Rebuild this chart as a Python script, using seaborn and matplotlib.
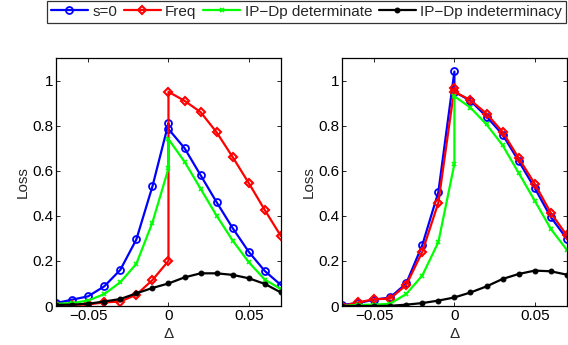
import matplotlib
matplotlib.use("Agg")
import matplotlib.pyplot as plt
import seaborn as sns
import numpy as np

# x grid: the step at 0 is drawn with two points (left / right limit)
delta = [-0.07, -0.06, -0.05, -0.04, -0.03, -0.02, -0.01, 0.0, 0.0,
         0.01, 0.02, 0.03, 0.04, 0.05, 0.06, 0.07]
delta_black = [-0.07, -0.06, -0.05, -0.04, -0.03, -0.02, -0.01, 0.0,
               0.01, 0.02, 0.03, 0.04, 0.05, 0.06, 0.07]

# left panel
left_s0 = [0.013, 0.028, 0.043, 0.087, 0.16, 0.295, 0.53, 0.81, 0.785,
           0.70, 0.58, 0.46, 0.345, 0.24, 0.155, 0.093]
left_freq = [0.005, 0.005, 0.007, 0.016, 0.02, 0.05, 0.115, 0.20, 0.95,
             0.91, 0.86, 0.77, 0.66, 0.545, 0.425, 0.31]
left_det = [0.01, 0.013, 0.024, 0.053, 0.105, 0.187, 0.37, 0.61, 0.74,
            0.64, 0.52, 0.40, 0.29, 0.194, 0.117, 0.075]
left_ind = [0.005, 0.006, 0.01, 0.02, 0.031, 0.056, 0.08, 0.10,
            0.127, 0.145, 0.145, 0.138, 0.123, 0.098, 0.06]

# right panel
right_s0 = [0.005, 0.013, 0.028, 0.038, 0.10, 0.27, 0.505, 1.04, 0.95,
            0.91, 0.84, 0.76, 0.643, 0.523, 0.394, 0.298]
right_freq = [0.0, 0.016, 0.03, 0.033, 0.093, 0.24, 0.458, 0.967, 0.95,
              0.913, 0.853, 0.772, 0.656, 0.542, 0.413, 0.313]
right_det = [0.0, 0.005, 0.006, 0.01, 0.053, 0.135, 0.283, 0.63, 0.93,
             0.88, 0.805, 0.713, 0.59, 0.467, 0.342, 0.249]
right_ind = [0.0, 0.0, 0.0, 0.001, 0.006, 0.013, 0.024, 0.038,
             0.06, 0.087, 0.12, 0.142, 0.157, 0.154, 0.139]

labels = ['s=0', 'Freq', 'IP\u2212Dp determinate', 'IP\u2212Dp indeterminacy']

sns.set_style("white")
plt.rcParams['font.family'] = ['Liberation Sans', 'DejaVu Sans']
plt.rcParams['axes.unicode_minus'] = True

fig = plt.figure(figsize=(5.68, 3.45), dpi=100)
ax1 = fig.add_axes([0.0986, 0.113, 0.396, 0.719])
ax2 = fig.add_axes([0.602, 0.113, 0.396, 0.719])


def draw(ax, s0, freq, det, ind):
    kw = dict(estimator=None, sort=False, ax=ax, linewidth=1.6)
    sns.lineplot(x=delta, y=s0, color='#0000ff', marker='o', markersize=5,
                 markerfacecolor='none', markeredgecolor='#0000ff',
                 markeredgewidth=1.3, label=labels[0], **kw)
    sns.lineplot(x=delta, y=freq, color='#ff0000', marker='D', markersize=4.2,
                 markerfacecolor='none', markeredgecolor='#ff0000',
                 markeredgewidth=1.5, label=labels[1], **kw)
    sns.lineplot(x=delta, y=det, color='#00ff00', marker='x', markersize=3.5,
                 markeredgecolor='#00ff00', markeredgewidth=1.2,
                 label=labels[2], **kw)
    sns.lineplot(x=delta_black, y=ind, color='black', marker='o', markersize=3.5,
                 markeredgecolor='black', markerfacecolor='black',
                 label=labels[3], **kw)
    ax.set_xlim(-0.07, 0.07)
    ax.set_ylim(0, 1.1)
    ax.set_xticks([-0.05, 0, 0.05])
    ax.set_xticklabels(['\u22120.05', '0', '0.05'])
    ax.set_yticks([0, 0.2, 0.4, 0.6, 0.8, 1])
    ax.set_yticklabels(['0', '0.2', '0.4', '0.6', '0.8', '1'])
    ax.tick_params(direction='in', length=3, width=0.6, labelsize=11,
                   top=True, right=True, bottom=True, left=True, pad=2,
                   colors='black')
    ax.set_xlabel('\u0394', fontsize=11, labelpad=3)
    ax.set_ylabel('Loss', fontsize=11, labelpad=2)
    for sp in ax.spines.values():
        sp.set_color('black')
        sp.set_linewidth(0.9)
    ax.get_legend().remove()


draw(ax1, left_s0, left_freq, left_det, left_ind)
draw(ax2, right_s0, right_freq, right_det, right_ind)

handles, _ = ax1.get_legend_handles_labels()
leg = fig.legend(handles, labels, loc='upper right', ncol=4,
                 bbox_to_anchor=(566 / 568, 1 - 1 / 345),
                 bbox_transform=fig.transFigure, fontsize=11,
                 frameon=True, fancybox=False, edgecolor='black',
                 handlelength=2.4, handletextpad=0.3, columnspacing=0.45,
                 borderpad=0.25, borderaxespad=0)
leg.get_frame().set_linewidth(0.9)

fig.savefig('out.png', dpi=100)
